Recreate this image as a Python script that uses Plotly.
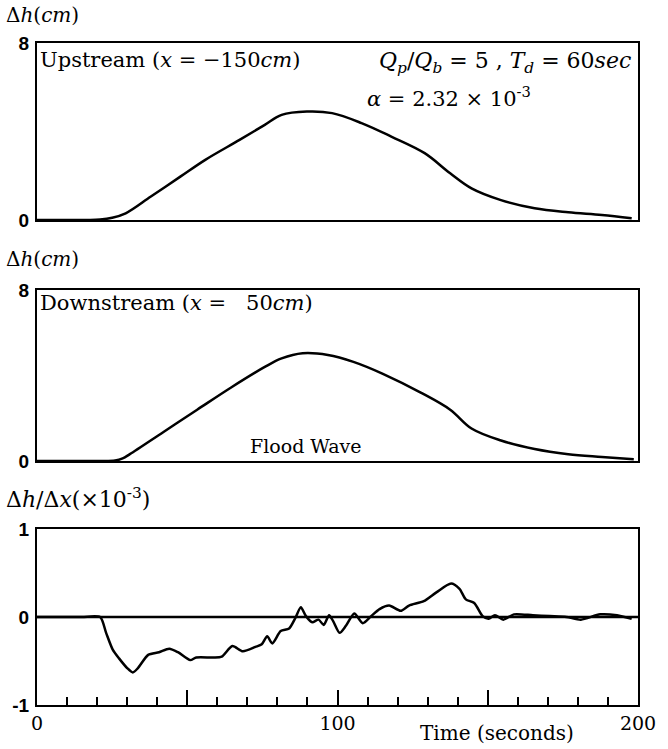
import plotly.graph_objects as go
from plotly.subplots import make_subplots

# Upstream (x = -150 cm)
t_up = [0, 10, 17, 21, 25, 29.5, 37.9, 47.7, 56, 67.4, 75.8, 81.4, 89.8, 98.2, 108, 117.9, 129,
        137.5, 144.6, 154.4, 165.6, 176.8, 188, 197.9]
h_up = [0, 0, 0, 0.02, 0.1, 0.3, 1.06, 1.96, 2.72, 3.62, 4.3, 4.75, 4.9, 4.83, 4.38, 3.77, 3.02,
        2.11, 1.43, 0.9, 0.53, 0.35, 0.23, 0.08]

# Downstream (x = 50 cm)
t_dn = [0, 10, 20, 26, 28.5, 30.9, 42.1, 53.3, 64.6, 75.8, 81.4, 88.4, 96.8, 105.3, 115.1, 127.7,
        137.5, 144.6, 154.4, 165.6, 176.8, 188, 198.6]
h_dn = [0, 0, 0, 0.02, 0.12, 0.32, 1.36, 2.4, 3.44, 4.4, 4.8, 5.04, 4.96, 4.64, 4.08, 3.2,
        2.4, 1.52, 0.96, 0.56, 0.32, 0.19, 0.08]

# Water surface slope dh/dx (x 1e-3)
t_sl = [0, 8, 15, 21, 23, 25.2, 27.3, 30, 31.9, 33.6, 37, 40.6, 44, 46.9, 51, 53, 58.7, 61.5, 65,
        68.5, 72.7, 74.8, 76.6, 78.3, 81.1, 83.9, 86, 87.8, 89.5, 91.6, 93.7, 95.4, 97.2,
        98.6, 100.7, 102.8, 105.6, 108.4, 111.2, 114, 117.2, 121, 123.8, 128.7, 132.9,
        137.8, 140.6, 142.7, 145.5, 148.3, 150.3, 152.4, 155.2, 158.7, 165, 170.6, 176.2,
        181, 187.4, 193, 197.9]
s_sl = [0, 0, 0, 0, -0.18, -0.37, -0.47, -0.58, -0.63, -0.58, -0.43, -0.40, -0.36, -0.40, -0.49,
        -0.46, -0.46, -0.45, -0.33, -0.39, -0.34, -0.31, -0.22, -0.30, -0.16, -0.13, -0.01,
        0.11, 0.01, -0.06, -0.03, -0.09, 0.02, -0.05, -0.18, -0.10, 0.04, -0.07, 0.01, 0.09,
        0.13, 0.07, 0.13, 0.18, 0.28, 0.38, 0.32, 0.20, 0.16, 0.01, -0.02, 0.02, -0.03,
        0.03, 0.02, 0.01, 0.0, -0.03, 0.03, 0.02, -0.02]

x_ticks = [0, 50, 100, 150, 200]
x_ticktext = ["0", "", "100", "", "200"]

W, H = 668, 749
ml, mr, mt, mb = 35, 22, 43, 44
ph = H - mt - mb

def dom(top, bot):
    return [1 - (bot - mt) / ph, 1 - (top - mt) / ph]

fig = make_subplots(rows=3, cols=1)
smooth_line = dict(color="black", width=2.5, shape="spline", smoothing=1.0)
wiggle_line = dict(color="black", width=2.5, shape="spline", smoothing=0.7)
fig.add_trace(go.Scatter(x=t_up, y=h_up, mode="lines", line=smooth_line), row=1, col=1)
fig.add_trace(go.Scatter(x=t_dn, y=h_dn, mode="lines", line=smooth_line), row=2, col=1)
fig.add_trace(go.Scatter(x=t_sl, y=s_sl, mode="lines", line=wiggle_line), row=3, col=1)

serif = "DejaVu Serif"
ax_common = dict(showline=True, mirror=True, linecolor="black", linewidth=2,
                 showgrid=False, zeroline=False)
yfont = dict(family="Liberation Sans", size=19, weight="bold")

fig.update_layout(
    width=W, height=H, margin=dict(l=ml, r=mr, t=mt, b=mb),
    paper_bgcolor="white", plot_bgcolor="white", showlegend=False,
    font=dict(family=serif, color="black"),
    xaxis=dict(domain=[0, 1], range=[0, 200], showticklabels=False, ticks="", **ax_common),
    xaxis2=dict(domain=[0, 1], range=[0, 200], showticklabels=False, ticks="", **ax_common),
    xaxis3=dict(domain=[0, 1], range=[0, 200], tickvals=x_ticks, ticktext=x_ticktext,
                ticks="inside", ticklen=15, tickwidth=2, tickcolor="black",
                minor=dict(dtick=10, ticks="inside", ticklen=8, tickwidth=2, tickcolor="black"),
                tickfont=dict(family=serif, size=19), **ax_common),
    yaxis=dict(domain=dom(43, 220), range=[0, 8], tickvals=[0, 8], ticks="",
               tickfont=yfont, **ax_common),
    yaxis2=dict(domain=dom(290, 461), range=[0, 8], tickvals=[0, 8], ticks="",
                tickfont=yfont, **ax_common),
    yaxis3=dict(domain=dom(529, 705), range=[-1, 1], tickvals=[-1, 0, 1], ticks="",
                ticktext=["-1", "0", "1"], tickfont=yfont, **ax_common),
)
fig.update_yaxes(ticklabelstandoff=2)
fig.add_hline(y=0, line=dict(color="black", width=2.5), row=3, col=1)

ann = []
def A(text, x, y, xanchor="left", yanchor="middle", size=20, xref="paper", yref="paper"):
    ann.append(dict(text=text, x=x, y=y, xref=xref, yref=yref, xanchor=xanchor,
                    yanchor=yanchor, showarrow=False, font=dict(size=size, family=serif)))

def px_x(p):
    return (p - ml) / (W - ml - mr)

def px_y(p):
    return 1 - (p - mt) / ph

A("Δ<i>h</i>(<i>cm</i>)", px_x(1), px_y(15), size=20)
A("Δ<i>h</i>(<i>cm</i>)", px_x(1), px_y(259), size=20)
A("Δ<i>h</i>/Δ<i>x</i>(×10<sup>-3</sup>)", px_x(1), px_y(498), size=22)
A("Upstream (<i>x</i> = −150<i>cm</i>)", px_x(36), px_y(60), size=21)
A("<i>Q<sub>p</sub></i>/<i>Q<sub>b</sub></i> = 5 , <i>T<sub>d</sub></i> = 60<i>sec</i>",
  px_x(641), px_y(62), xanchor="right", size=22)
A("<i>α</i> = 2.32 × 10<sup>-3</sup>", px_x(368), px_y(97), size=21)
A("Downstream (<i>x</i> =   50<i>cm</i>)", px_x(36), px_y(303), size=21)
A("Flood Wave", 89.5, 0.1, xanchor="center", yanchor="bottom", size=19, xref="x2", yref="y2")
A("Time (seconds)", px_x(503), px_y(733), xanchor="center", size=20)
fig.update_layout(annotations=ann)

fig.write_html("out.html")
